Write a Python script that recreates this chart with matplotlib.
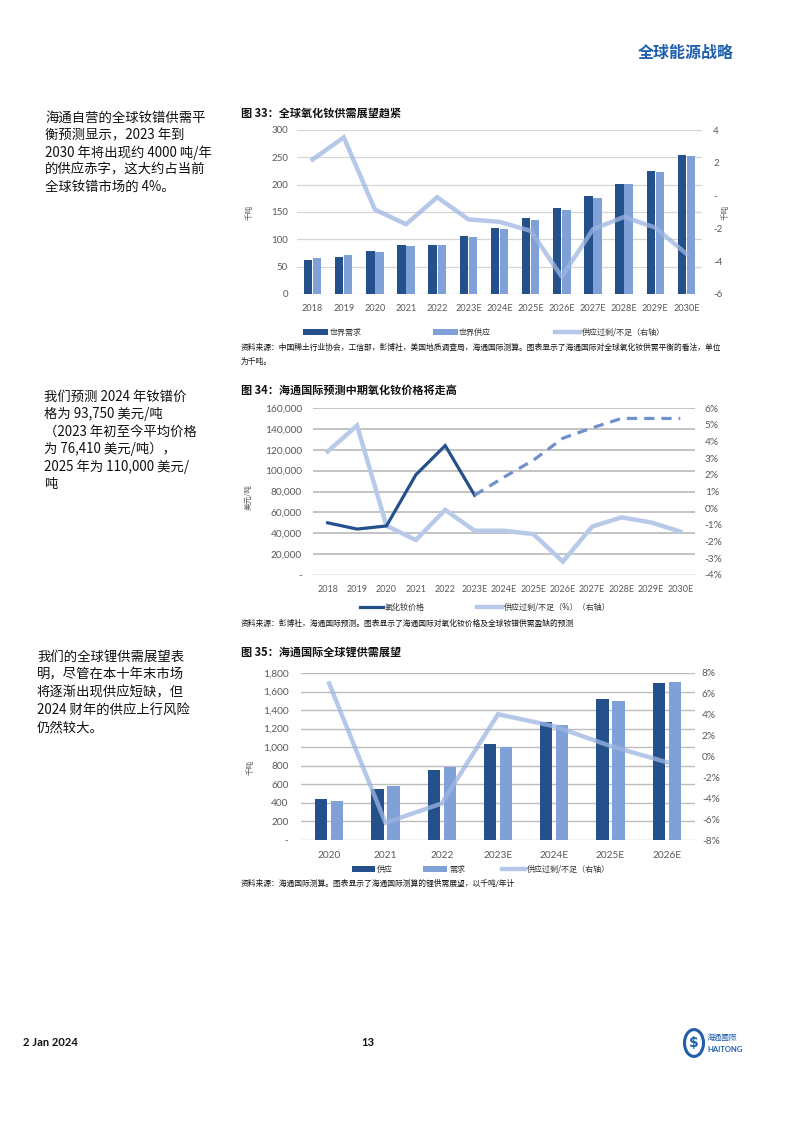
import matplotlib
matplotlib.use('Agg')
import matplotlib.pyplot as plt
import numpy as np
from matplotlib.patches import Rectangle, Circle
from matplotlib.lines import Line2D

plt.rcParams['font.family'] = ['Noto Sans CJK SC', 'DejaVu Sans']

# ---------------- data ----------------
years1 = ['2018', '2019', '2020', '2021', '2022', '2023E', '2024E', '2025E',
          '2026E', '2027E', '2028E', '2029E', '2030E']
demand1 = [63, 68, 79, 90, 90, 107, 121, 139, 158, 179, 202, 225, 255]
supply1 = [66, 72, 77, 88, 90, 105, 119, 135, 153, 176, 201, 224, 252]
balance1 = [2.2, 3.55, -0.85, -1.75, -0.1, -1.45, -1.6, -2.15, -4.95, -2.05, -1.3, -1.95, -3.55]

years2 = years1
price2 = [50000, 44000, 47000, 96000, 124000, 76410, 93750, 110000, 131000,
          141000, 150000, 150000, 150000]
balance2 = [3.4, 4.95, -1.05, -1.9, -0.1, -1.35, -1.35, -1.55, -3.2, -1.1, -0.55, -0.85, -1.4]
forecast_start2 = 5  # index of 2023E, where the dashed forecast begins

years3 = ['2020', '2021', '2022', '2023E', '2024E', '2025E', '2026E']
supply3 = [445, 547, 752, 1040, 1267, 1523, 1688]
demand3 = [418, 583, 788, 1004, 1235, 1501, 1699]
balance3 = [7.0, -6.35, -4.5, 4.05, 2.9, 1.0, -0.55]

DARK = '#24518c'
LIGHT = '#7fa1d8'
LINE = '#9db6e2'
TICK = '#595959'
NUMFONT = ['Lato', 'DejaVu Sans']

W, H = 794, 1122
fig = plt.figure(figsize=(W / 100, H / 100), dpi=100)


def fx(x):
    return x / W


def fy(y):
    return 1 - y / H


def style_axes(ax):
    for s in ax.spines.values():
        s.set_visible(False)
    ax.tick_params(length=0, colors=TICK)


def set_num_font(ax, ysize, xsize=None):
    for lab in ax.get_yticklabels():
        lab.set_family(NUMFONT)
        lab.set_fontsize(ysize)
    for lab in ax.get_xticklabels():
        lab.set_family(NUMFONT)
        lab.set_fontsize(xsize if xsize else ysize)


# ---------------- header / footer ----------------
fig.text(fx(734), fy(53), '全球能源战略', ha='right', va='center', fontsize=11.5,
         fontweight='bold', color='#1f5fad')
fig.text(fx(23), fy(1043), '2 Jan 2024', ha='left', va='center', fontsize=8,
         fontweight='bold', family=['Lato', 'DejaVu Sans'], color='#111111')
fig.text(fx(368), fy(1043), '13', ha='center', va='center', fontsize=8,
         fontweight='bold', family=['Lato', 'DejaVu Sans'], color='#111111')
logo = Circle((fx(694), fy(1043)), 9.5 / W, transform=fig.transFigure,
              facecolor='none', edgecolor='#1f5fad', lw=2.2)
fig.add_artist(logo)
fig.text(fx(694), fy(1043), '$', ha='center', va='center', fontsize=10,
         fontweight='bold', color='#1f5fad', family=['DejaVu Sans'])
fig.text(fx(707), fy(1038), '海通國際', ha='left', va='center', fontsize=5.5,
         color='#1f5fad', family=['Noto Sans CJK TC', 'DejaVu Sans'])
fig.text(fx(707), fy(1049), 'HAITONG', ha='left', va='center', fontsize=5.5,
         color='#1f5fad', fontweight='bold', family=['Lato', 'DejaVu Sans'])

# ---------------- left text ----------------
txt1 = ['海通自营的全球钕镨供需平', '衡预测显示，2023 年到', '2030 年将出现约 4000 吨/年',
        '的供应赤字，这大约占当前', '全球钕镨市场的 4%。']
for i, t in enumerate(txt1):
    fig.text(fx(45), fy(118 + i * 17.3), t, ha='left', va='center', fontsize=9.6, color='#111111')

txt2 = ['我们预测 2024 年钕镨价', '格为 93,750 美元/吨', '（2023 年初至今平均价格',
        '为 76,410 美元/吨），', '2025 年为 110,000 美元/', '吨']
for i, t in enumerate(txt2):
    fig.text(fx(44), fy(397 + i * 17.4), t, ha='left', va='center', fontsize=9.6, color='#111111')

txt3 = ['我们的全球锂供需展望表', '明，尽管在本十年末市场', '将逐渐出现供应短缺，但',
        '2024 财年的供应上行风险', '仍然较大。']
for i, t in enumerate(txt3):
    fig.text(fx(37), fy(657 + i * 17.6), t, ha='left', va='center', fontsize=9.6, color='#111111')

# ---------------- chart 33 ----------------
fig.text(fx(241), fy(113), '图 33：全球氧化钕供需展望趋紧', ha='left', va='center',
         fontsize=8, fontweight='bold', color='#111111')
ax1 = fig.add_axes([fx(297), fy(294), (702 - 297) / W, (294 - 130) / H])
x1 = np.arange(len(years1))
ax1.bar(x1 - 0.145, demand1, 0.27, color=DARK, zorder=2)
ax1.bar(x1 + 0.145, supply1, 0.27, color=LIGHT, zorder=2)
ax1.set_xlim(-0.5, len(years1) - 0.5)
ax1.set_ylim(0, 300)
ax1.set_yticks(range(0, 301, 50))
ax1.set_xticks(x1)
ax1.set_xticklabels(years1)
ax1.yaxis.grid(True, color='#d6d6d6', lw=0.9)
ax1.set_axisbelow(True)
style_axes(ax1)
ax1.tick_params(axis='y', pad=6.5)
ax1.tick_params(axis='x', pad=7)
set_num_font(ax1, 7, 6.6)
ax1r = ax1.twinx()
ax1r.plot(x1, balance1, color=LINE, alpha=0.75, lw=3.2, solid_joinstyle='miter')
ax1r.set_ylim(-6, 4)
ax1r.set_yticks([-6, -4, -2, 0, 2, 4])
ax1r.set_yticklabels(['-6', '-4', '-2', '-', '2', '4'])
style_axes(ax1r)
ax1r.tick_params(axis='y', pad=8)
set_num_font(ax1r, 7)
fig.text(fx(250), fy(212), '千吨', rotation=90, ha='center', va='center', fontsize=5.5, color=TICK)
fig.text(fx(726), fy(212), '千吨', rotation=90, ha='center', va='center', fontsize=5.5, color=TICK)

# legend 33
fig.add_artist(Rectangle((fx(303), fy(335)), 25 / W, 6 / H, transform=fig.transFigure,
                         facecolor=DARK, edgecolor='none'))
fig.text(fx(330), fy(332), '世界需求', ha='left', va='center', fontsize=5.8, color='#333333')
fig.add_artist(Rectangle((fx(433), fy(335)), 25 / W, 6 / H, transform=fig.transFigure,
                         facecolor=LIGHT, edgecolor='none'))
fig.text(fx(459), fy(332), '世界供应', ha='left', va='center', fontsize=5.8, color='#333333')
fig.add_artist(Line2D([fx(555), fx(580)], [fy(332), fy(332)], transform=fig.transFigure,
                      color=LINE, alpha=0.75, lw=3.2))
fig.text(fx(582), fy(332), '供应过剩/不足（右轴）', ha='left', va='center', fontsize=5.8, color='#333333')
fig.text(fx(241), fy(348), '资料来源：中国稀土行业协会，工信部，彭博社，美国地质调查局，海通国际测算。图表显示了海通国际对全球氧化钕供需平衡的看法，单位',
         ha='left', va='center', fontsize=5.6, color='#111111')
fig.text(fx(241), fy(362), '为千吨。', ha='left', va='center', fontsize=5.6, color='#111111')

# ---------------- chart 34 ----------------
fig.text(fx(241), fy(390), '图 34：海通国际预测中期氧化钕价格将走高', ha='left', va='center',
         fontsize=8, fontweight='bold', color='#111111')
ax2 = fig.add_axes([fx(313), fy(575), (695 - 313) / W, (575 - 408) / H])
ax2r = ax2.twinx()
x2 = np.arange(len(years2))
ax2r.plot(x2, balance2, color='#b8cae9', lw=3.2, solid_joinstyle='miter')
ax2r.set_ylim(-4, 6)
ax2r.set_yticks(range(-4, 7))
ax2r.set_yticklabels([f'{v}%' for v in range(-4, 7)])
style_axes(ax2r)
ax2r.tick_params(axis='y', pad=7)
set_num_font(ax2r, 7.3)

ax2.set_zorder(ax2r.get_zorder() + 1)
ax2.patch.set_visible(False)
ax2.plot(x2[:forecast_start2 + 1], price2[:forecast_start2 + 1], color='#24518c', lw=2.3,
         solid_joinstyle='miter')
ax2.plot(x2[forecast_start2:], price2[forecast_start2:], color='#6f90cc', lw=2.3,
         dashes=(3.2, 2.2))
ax2.set_xlim(-0.5, len(years2) - 0.5)
ax2.set_ylim(0, 160000)
ax2.set_yticks(range(0, 160001, 20000))
ax2.set_yticklabels(['-'] + [f'{v:,}' for v in range(20000, 160001, 20000)])
ax2.set_xticks(x2)
ax2.set_xticklabels(years2)
style_axes(ax2)
ax2.tick_params(axis='y', pad=8)
ax2.tick_params(axis='x', pad=7)
set_num_font(ax2, 7.3, 6.5)
# grid lines drawn on right axis layer so they sit under the lines
for v in range(20000, 160001, 20000):
    ax2r.axhline(-4 + v / 16000, color='#b3b3b3', lw=1.1, zorder=0)
ax2r.axhline(-4, color='#e3e3e3', lw=1.1, zorder=0)
fig.text(fx(249), fy(497), '美元/吨', rotation=90, ha='center', va='center', fontsize=5.5, color=TICK)

fig.add_artist(Line2D([fx(360), fx(383)], [fy(607), fy(607)], transform=fig.transFigure,
                      color='#24518c', lw=2.3))
fig.text(fx(385), fy(607), '氧化钕价格', ha='left', va='center', fontsize=5.8, color='#333333')
fig.add_artist(Line2D([fx(477), fx(502)], [fy(607), fy(607)], transform=fig.transFigure,
                      color='#b8cae9', lw=3.2))
fig.text(fx(504), fy(607), '供应过剩/不足（%）（右轴）', ha='left', va='center', fontsize=5.8, color='#333333')
fig.text(fx(241), fy(624), '资料来源：彭博社，海通国际预测。图表显示了海通国际对氧化钕价格及全球钕镨供需盈缺的预测',
         ha='left', va='center', fontsize=5.6, color='#111111')

# ---------------- chart 35 ----------------
fig.text(fx(241), fy(652), '图 35：海通国际全球锂供需展望', ha='left', va='center',
         fontsize=8, fontweight='bold', color='#111111')
ax3 = fig.add_axes([fx(301), fy(840), (695 - 301) / W, (840 - 673) / H])
x3 = np.arange(len(years3))
ax3.bar(x3 - 0.142, supply3, 0.22, color=DARK, zorder=2)
ax3.bar(x3 + 0.142, demand3, 0.22, color=LIGHT, zorder=2)
ax3.set_xlim(-0.5, len(years3) - 0.5)
ax3.set_ylim(0, 1800)
ax3.set_yticks(range(0, 1801, 200))
ax3.set_yticklabels(['-'] + [f'{v:,}' for v in range(200, 1801, 200)])
ax3.set_xticks(x3)
ax3.set_xticklabels(years3)
ax3.yaxis.grid(True, color='#bdbdbd', lw=1.0)
ax3.set_axisbelow(True)
style_axes(ax3)
ax3.tick_params(axis='y', pad=9)
ax3.tick_params(axis='x', pad=8)
set_num_font(ax3, 7.3)
ax3r = ax3.twinx()
ax3r.plot(x3, balance3, color=LINE, alpha=0.75, lw=3.2, solid_joinstyle='miter')
ax3r.set_ylim(-8, 8)
ax3r.set_yticks(range(-8, 9, 2))
ax3r.set_yticklabels([f'{v}%' for v in range(-8, 9, 2)])
style_axes(ax3r)
ax3r.tick_params(axis='y', pad=5)
set_num_font(ax3r, 7.3)
fig.text(fx(251), fy(767), '千吨', rotation=90, ha='center', va='center', fontsize=5.5, color=TICK)

fig.add_artist(Rectangle((fx(352), fy(872)), 23 / W, 6 / H, transform=fig.transFigure,
                         facecolor=DARK, edgecolor='none'))
fig.text(fx(377), fy(869), '供应', ha='left', va='center', fontsize=5.8, color='#333333')
fig.add_artist(Rectangle((fx(423), fy(872)), 24 / W, 6 / H, transform=fig.transFigure,
                         facecolor=LIGHT, edgecolor='none'))
fig.text(fx(449), fy(869), '需求', ha='left', va='center', fontsize=5.8, color='#333333')
fig.add_artist(Line2D([fx(502), fx(525)], [fy(869), fy(869)], transform=fig.transFigure,
                      color=LINE, alpha=0.75, lw=3.2))
fig.text(fx(527), fy(869), '供应过剩/不足（右轴）', ha='left', va='center', fontsize=5.8, color='#333333')
fig.text(fx(241), fy(884), '资料来源：海通国际测算。图表显示了海通国际测算的锂供需展望，以千吨/年计',
         ha='left', va='center', fontsize=5.6, color='#111111')

fig.savefig('out.png', dpi=100)
